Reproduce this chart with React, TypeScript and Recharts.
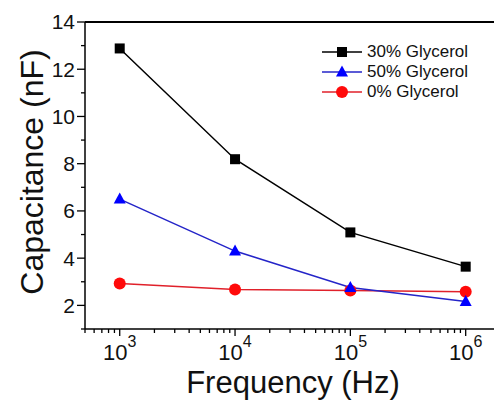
import { LineChart, Line, XAxis, YAxis, ReferenceLine } from "recharts";

// Capacitance (nF) vs frequency (Hz)
const frequencies = [1e3, 1e4, 1e5, 1e6];
const glycerol30 = [12.88, 8.19, 5.09, 3.64];
const glycerol50 = [6.5, 4.3, 2.76, 2.16];
const glycerol0 = [2.93, 2.67, 2.63, 2.58];
const seriesNames = ["30% Glycerol", "50% Glycerol", "0% Glycerol"];

const yMajorTicks = [2, 4, 6, 8, 10, 12, 14];
const yMinorTicks = [1, 3, 5, 7, 9, 11, 13];
const xDecades = [2, 3, 4, 5, 6];
const xDomain: [number, number] = [500, 1760000];

const FONT = "'Liberation Sans', Arial, sans-serif";

const data = frequencies.map((f, i) => ({
  f,
  g30: glycerol30[i],
  g50: glycerol50[i],
  g0: glycerol0[i],
}));

// log ticks: 1..9 x 10^k inside the domain
const xTicks = xDecades
  .flatMap((k) => [1, 2, 3, 4, 5, 6, 7, 8, 9].map((m) => m * Math.pow(10, k)))
  .filter((v) => v >= xDomain[0] && v <= xDomain[1]);

const yTicks = [...yMinorTicks, ...yMajorTicks].sort((a, b) => a - b);

const XTick = ({ x, y, payload }: any) => {
  const exp = Math.log10(payload.value);
  const major = Math.abs(exp - Math.round(exp)) < 1e-6;
  return (
    <g>
      <line x1={x} x2={x} y1={y} y2={y + (major ? 7 : 4)} stroke="#000" strokeWidth={1.3} />
      {major && (
        <text x={x} y={y + 31} textAnchor="middle" fontSize={22} fontFamily={FONT} fill="#111">
          10
          <tspan dy={-13} fontSize={16}>
            {Math.round(exp)}
          </tspan>
        </text>
      )}
    </g>
  );
};

const YTick = ({ x, y, payload }: any) => {
  const major = yMajorTicks.includes(payload.value);
  return (
    <g>
      <line x1={x - (major ? 8 : 4)} x2={x} y1={y} y2={y} stroke="#000" strokeWidth={1.3} />
      {major && (
        <text x={x - 10} y={y} dy="0.35em" textAnchor="end" fontSize={21} fontFamily={FONT} fill="#111">
          {payload.value}
        </text>
      )}
    </g>
  );
};

const Square = ({ cx, cy, fill }: any) =>
  cx == null ? null : <rect x={cx - 5} y={cy - 5} width={10} height={10} fill={fill} />;

const Triangle = ({ cx, cy, fill }: any) =>
  cx == null ? null : (
    <polygon points={`${cx},${cy - 6.5} ${cx - 6},${cy + 4.5} ${cx + 6},${cy + 4.5}`} fill={fill} />
  );

const Circle = ({ cx, cy, fill }: any) =>
  cx == null ? null : <circle cx={cx} cy={cy} r={6} fill={fill} />;

const series = [
  { key: "g30", name: seriesNames[0], line: "#000000", fill: "#000000", Marker: Square },
  { key: "g50", name: seriesNames[1], line: "#2424c8", fill: "#0000ff", Marker: Triangle },
  { key: "g0", name: seriesNames[2], line: "#e0202a", fill: "#ff0a0a", Marker: Circle },
];

// red underneath, blue over it, black on top (as in the figure)
const drawOrder = [2, 1, 0];

const App = () => {
  return (
    <div style={{ position: "absolute", left: 0, top: 0, width: 494, height: 404, background: "#fff" }}>
      <LineChart width={494} height={404} data={data} margin={{ top: 22, right: 0, left: 0, bottom: 0 }}>
        <XAxis
          dataKey="f"
          type="number"
          scale="log"
          domain={xDomain}
          allowDataOverflow
          ticks={xTicks}
          interval={0}
          height={75}
          tickSize={0}
          tickMargin={0}
          tickLine={false}
          tick={<XTick />}
          axisLine={{ stroke: "#000", strokeWidth: 1.5 }}
          label={() => (
            <text x={293} y={393} textAnchor="middle" fontSize={31} fontFamily={FONT} fill="#111">
              Frequency (Hz)
            </text>
          )}
        />
        <YAxis
          type="number"
          domain={[1, 14]}
          ticks={yTicks}
          interval={0}
          width={85}
          tickSize={0}
          tickMargin={0}
          tickLine={false}
          tick={<YTick />}
          axisLine={{ stroke: "#000", strokeWidth: 1.5 }}
          label={() => (
            <text
              x={43}
              y={172}
              transform="rotate(-90 43 172)"
              textAnchor="middle"
              fontSize={32}
              fontFamily={FONT}
              fill="#111"
            >
              Capacitance (nF)
            </text>
          )}
        />
        <ReferenceLine y={14} stroke="#000" strokeWidth={2} />
        {drawOrder.map((i) => {
          const s = series[i];
          return (
            <Line
              key={s.key}
              dataKey={s.key}
              name={s.name}
              stroke={s.line}
              strokeWidth={1.5}
              dot={<s.Marker fill={s.fill} />}
              activeDot={false}
              isAnimationActive={false}
            />
          );
        })}
      </LineChart>

      {/* legend */}
      <div style={{ position: "absolute", left: 318, top: 42, fontFamily: FONT, fontSize: 17, color: "#111" }}>
        {series.map((s) => (
          <div key={s.key} style={{ display: "flex", alignItems: "center", height: 20 }}>
            <svg width={44} height={20}>
              <line x1={4} x2={44} y1={10} y2={10} stroke={s.line} strokeWidth={1.5} />
              <s.Marker cx={24} cy={10} fill={s.fill} />
            </svg>
            <span style={{ marginLeft: 5, whiteSpace: "nowrap" }}>{s.name}</span>
          </div>
        ))}
      </div>
    </div>
  );
};

export default App;
